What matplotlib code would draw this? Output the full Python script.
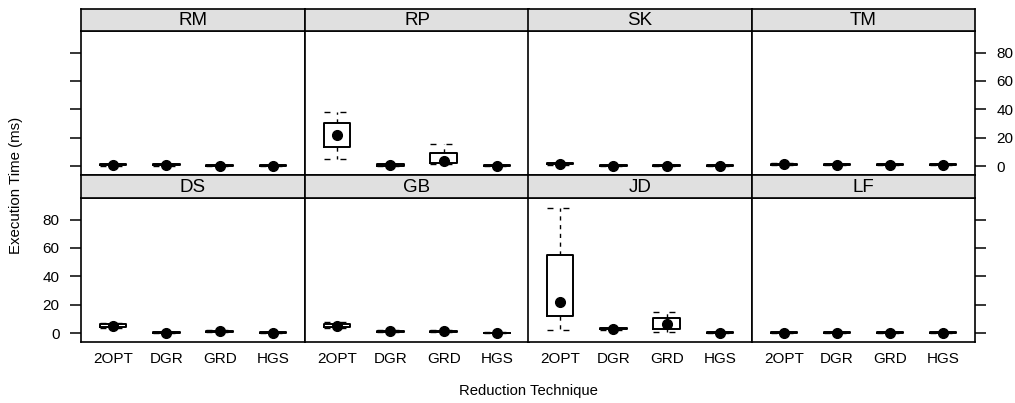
import matplotlib
matplotlib.use("Agg")
import matplotlib.pyplot as plt

plt.rcParams['font.family'] = ['Liberation Sans', 'DejaVu Sans']

panels = ["RM", "RP", "SK", "TM", "DS", "GB", "JD", "LF"]
techniques = ["2OPT", "DGR", "GRD", "HGS"]
yticks = [0, 20, 40, 60, 80]

# five-number summaries per panel, one value per technique
whisk_lo = [[0.3, 0.3, 0.0, 0.0], [4.7, 0.3, 1.5, 0.0], [1.0, 0.0, 0.0, 0.0], [0.9, 0.4, 0.4, 0.4],
            [3.5, 0.0, 0.9, 0.0], [3.8, 0.9, 0.9, 0.0], [2.1, 2.5, 0.9, 0.0], [0.0, 0.0, 0.0, 0.0]]
box_lo = [[0.6, 0.6, 0.0, 0.0], [13.2, 0.3, 2.3, 0.0], [1.2, 0.0, 0.0, 0.0], [1.0, 0.5, 0.5, 0.5],
          [4.2, 0.0, 1.0, 0.0], [4.1, 1.0, 1.0, 0.0], [12.0, 2.7, 3.2, 0.0], [0.0, 0.0, 0.0, 0.0]]
medians = [[1.0, 1.0, 0.3, 0.3], [22.0, 0.7, 3.5, 0.2], [1.6, 0.3, 0.1, 0.1], [1.4, 0.8, 0.8, 0.8],
           [5.0, 0.2, 1.3, 0.3], [5.0, 1.3, 1.3, 0.0], [22.0, 3.0, 6.2, 0.2], [0.3, 0.1, 0.1, 0.1]]
box_hi = [[1.4, 1.4, 0.6, 0.6], [30.2, 1.3, 9.4, 0.5], [2.0, 0.6, 0.4, 0.4], [1.8, 1.2, 1.2, 1.2],
          [6.4, 0.6, 1.7, 0.6], [6.5, 1.7, 1.7, 0.3], [55.0, 3.3, 10.8, 0.5], [0.7, 0.5, 0.5, 0.5]]
whisk_hi = [[1.8, 1.8, 0.8, 0.8], [38.2, 1.6, 15.6, 0.7], [2.3, 0.8, 0.6, 0.6], [2.1, 1.4, 1.4, 1.4],
            [7.0, 0.8, 2.0, 0.8], [7.8, 2.0, 2.0, 0.5], [88.4, 3.6, 15.0, 0.7], [0.9, 0.7, 0.7, 0.7]]

W, H = 1015, 403
fig = plt.figure(figsize=(W / 100, H / 100), dpi=100)

col_x = [81, 305, 528, 752]
col_w = 224
rows = [(9, 31, 175), (175, 198, 342)]  # strip top, panel top, panel bottom

whisk_dash = (0, (3.0, 3.3))
cap_dash = (0, (4.3, 7.2))


def fig_box(x0, y_top, w, h):
    return [x0 / W, 1 - (y_top + h) / H, w / W, h / H]


for i, name in enumerate(panels):
    r, c = divmod(i, 4)
    s_top, p_top, p_bot = rows[r]
    x0 = col_x[c]
    w = col_w if c < 3 else 223

    ax = fig.add_axes(fig_box(x0, p_top, w, p_bot - p_top))
    stats = []
    for j, t in enumerate(techniques):
        stats.append(dict(label=t, whislo=whisk_lo[i][j], q1=box_lo[i][j], med=medians[i][j],
                          q3=box_hi[i][j], whishi=whisk_hi[i][j], fliers=[]))
    pos = list(range(1, len(techniques) + 1))
    ax.bxp(stats, positions=pos, widths=0.5, capwidths=0.5, showfliers=False,
           boxprops=dict(color='black', linewidth=1.4),
           whiskerprops=dict(color='black', linewidth=1.0, linestyle=whisk_dash),
           capprops=dict(color='black', linewidth=1.0, linestyle=cap_dash),
           medianprops=dict(linewidth=0))
    ax.plot(pos, medians[i], 'o', color='black', markersize=7, zorder=5)

    ax.set_xlim(0.4, 4.6)
    ax.set_ylim(-6.3, 95.2)
    ax.set_yticks(yticks)
    for sp in ax.spines.values():
        sp.set_linewidth(1.2)

    ax.tick_params(axis='x', length=0, labelsize=11, pad=7.5)
    if r == 1:
        ax.set_xticks(pos, techniques)
    else:
        ax.set_xticks(pos, [""] * len(pos))

    left = c == 0
    right = c == 3
    ax.tick_params(axis='y', direction='out', length=8, width=1.1, labelsize=11, pad=7.5,
                   left=left, right=right,
                   labelleft=left and r == 1, labelright=right and r == 0)

    # strip on top of each panel
    sax = fig.add_axes(fig_box(x0, s_top, w, p_top - s_top))
    sax.set_facecolor('#E0E0E0')
    sax.set_xticks([])
    sax.set_yticks([])
    for sp in sax.spines.values():
        sp.set_linewidth(1.2)
    sax.text(0.5, 0.47, name, ha='center', va='center', fontsize=13.5, transform=sax.transAxes)

fig.text(16 / W, 1 - 185 / H, "Execution Time (ms)", rotation=90, ha='center', va='center', fontsize=10.8)
fig.text(528 / W, 1 - 391.5 / H, "Reduction Technique", ha='center', va='center', fontsize=10.7)

fig.savefig("out.png", dpi=100)
